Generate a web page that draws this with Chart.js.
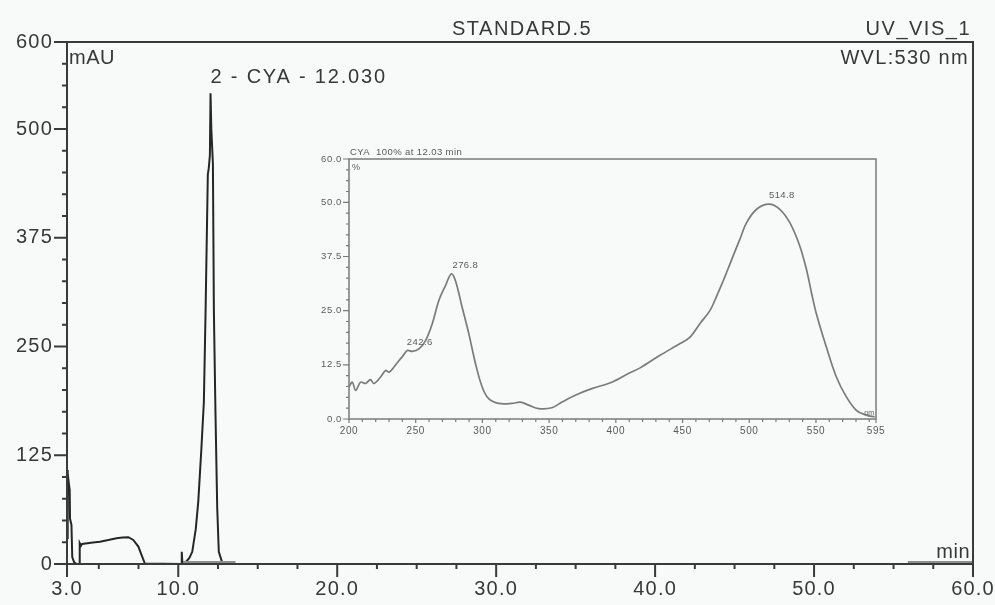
<!DOCTYPE html>
<html>
<head>
<meta charset="utf-8">
<script src="https://cdn.jsdelivr.net/npm/chart.js@4.4.1/dist/chart.umd.min.js"></script>
<style>
  html, body { margin: 0; padding: 0; background: #f8f9f9; }
  #wrap { position: relative; width: 995px; height: 605px; }
  #mainChart { position: absolute; left: 0; top: 0; }
  #specChart { position: absolute; left: 300px; top: 140px; }
</style>
</head>
<body>
<div id="wrap">
  <canvas id="mainChart" width="995" height="605"></canvas>
  <canvas id="specChart" width="600" height="310"></canvas>
</div>
<script>
// chromatogram, UV_VIS_1 at 530 nm (min / mAU)
const mainTime = [3.00, 3.03, 3.06, 3.10, 3.17, 3.19, 3.28, 3.33, 3.45, 3.62, 3.76, 3.80, 3.88, 3.95,
    4.50, 5.07, 5.60, 6.12, 6.50, 6.86, 7.17, 7.49, 7.70, 7.90, 10.20, 10.22, 10.26, 10.46, 10.70,
    10.88, 11.10, 11.26, 11.45, 11.61, 11.72, 11.86, 11.92, 11.99, 12.03, 12.08, 12.18, 12.24, 12.34,
    12.45, 12.55, 12.76, 13.60, 60.00];
const mainSignal = [30, 108, 104, 95, 85, 52, 45, 8, 2, 0, 0, 24, 21, 23,
    24.5, 25.7, 27.5, 29.6, 30.5, 30.8, 27.7, 20, 10, 0.5, 0, 14, 1, 2, 7,
    14, 40, 72, 131, 186, 292, 448, 455, 470, 541, 500, 460, 292, 175,
    65, 14, 2, 0, 0];
// integration baselines (grey bars)
const baseTime = [10.3, 13.6, 13.6, 55.9, 60.0];
const baseSignal = [1.5, 1.5, null, 1.5, 1.5];

const mainXLabels = [3, 10, 20, 30, 40, 50, 60];
const mainYLabels = [0, 125, 250, 375, 500, 600];
const peakTime = [12.03];
const peakSignal = [541];
const peakNames = ['2 - CYA - 12.030'];

// inset UV spectrum of CYA at 12.03 min (nm / %)
const specNm = [200, 202.5, 205, 208.7, 212.5, 216, 218.7, 223.7, 227.5, 230, 233.7, 237.5, 240,
    243.7, 247.4, 252.4, 257.4, 262.4, 267.3, 272.3, 276.8, 279.8, 284.8, 289.8, 294.8, 299.8,
    304.7, 312.2, 322.2, 328.4, 334.6, 342.1, 352.1, 359.6, 369.6, 382, 397, 409.4, 418.2, 433.1,
    448.1, 455.6, 463, 470.5, 475.5, 480.5, 483, 488, 493, 498, 505.5, 514.8, 522.9, 530.4,
    537.8, 542.8, 546.6, 550.3, 557.8, 565.3, 572.8, 580.3, 587.7, 594];
const specPct = [7.4, 8.5, 6.6, 8.5, 8.2, 9.1, 8.2, 9.7, 11.2, 10.8, 12, 13.5, 14.4,
    15.8, 15.6, 16.2, 18.1, 22, 27.3, 30.8, 33.5, 31.9, 25.8, 19.7, 12.8, 7.4,
    4.7, 3.6, 3.6, 3.9, 3.2, 2.4, 2.6, 3.9, 5.5, 7, 8.5, 10.5, 11.8, 14.7,
    17.4, 18.9, 22, 25, 28.3, 31.9, 33.8, 37.7, 41.5, 45.3, 48.4, 49.6, 48.4, 45.3,
    40, 34.6, 29.2, 24.3, 16.6, 9.7, 5.1, 2, 0.9, 0.5];
const specXLabels = [200, 250, 300, 350, 400, 450, 500, 550, 595];
const specYLabels = [0, 12.5, 25, 37.5, 50, 60];
const specPeakNm = [242.6, 276.8, 514.8];
const specPeakPct = [16.0, 33.5, 49.6];

const FONT = "'Liberation Sans', Arial, sans-serif";
Chart.defaults.font.family = FONT;

function withMinors(majors, from, to, step) {
    const vals = majors.slice();
    for (let v = from; v <= to + 1e-9; v += step) {
        const r = Math.round(v * 100) / 100;
        if (!vals.some(m => Math.abs(m - r) < 1e-6)) vals.push(r);
    }
    return vals.sort((a, b) => a - b);
}

function isMajor(list, v) {
    return list.some(m => Math.abs(m - v) < 1e-6);
}

// box + tick marks, drawn through the chart's own scales
const framePlugin = {
    id: 'frame',
    beforeDraw(chart, args, o) {
        chart.ctx.letterSpacing = o.spacing || '0px';
    },
    afterDraw(chart, args, o) {
        const { ctx, chartArea: a, scales } = chart;
        ctx.save();
        ctx.strokeStyle = o.color;
        ctx.lineWidth = o.width;
        ctx.strokeRect(a.left, a.top, a.right - a.left, a.bottom - a.top);
        ctx.lineWidth = o.tickWidth;
        ctx.beginPath();
        scales.x.ticks.forEach(t => {
            const px = scales.x.getPixelForValue(t.value);
            const len = isMajor(o.xMajor, t.value) ? o.xMajorLen : o.xMinorLen;
            ctx.moveTo(px, a.bottom);
            ctx.lineTo(px, a.bottom + len);
        });
        scales.y.ticks.forEach(t => {
            const py = scales.y.getPixelForValue(t.value);
            const len = isMajor(o.yMajor, t.value) ? o.yMajorLen : o.yMinorLen;
            ctx.moveTo(a.left - len, py);
            ctx.lineTo(a.left, py);
        });
        ctx.stroke();
        ctx.restore();
        ctx.letterSpacing = '0px';
    }
};

// free texts: either tied to data values or to the plot box
const textPlugin = {
    id: 'texts',
    afterDraw(chart, args, o) {
        const { ctx, chartArea: a, scales } = chart;
        ctx.save();
        o.items.forEach(it => {
            let x, y;
            if (it.data) {
                x = scales.x.getPixelForValue(it.data[0]) + (it.dx || 0);
                y = scales.y.getPixelForValue(it.data[1]) + (it.dy || 0);
            } else {
                x = (it.fromRight ? a.right : a.left) + it.dx;
                y = (it.fromBottom ? a.bottom : a.top) + it.dy;
            }
            ctx.font = it.font;
            ctx.fillStyle = it.color;
            ctx.letterSpacing = it.spacing || '0px';
            ctx.textAlign = it.align || 'left';
            ctx.textBaseline = 'alphabetic';
            ctx.fillText(it.text, x, y);
        });
        ctx.restore();
    }
};

function toPoints(xs, ys) {
    return xs.map((x, i) => ({ x: x, y: ys[i] }));
}

function noEdgePadding(s) {
    s.paddingLeft = 0;
    s.paddingRight = 0;
}

function initMainChart() {
    const xTicks = withMinors(mainXLabels, 5, 57.5, 2.5);
    const yTicks = withMinors(mainYLabels, 0, 600, 25);
    const txt = '#383838';
    const big = '20px ' + FONT;

    new Chart(document.getElementById('mainChart'), {
        type: 'line',
        data: {
            datasets: [{
                data: toPoints(baseTime, baseSignal),
                borderColor: '#8d8d8d',
                borderWidth: 3.5,
                pointRadius: 0,
                spanGaps: false
            }, {
                data: toPoints(mainTime, mainSignal),
                borderColor: '#262626',
                borderWidth: 2,
                pointRadius: 0,
                tension: 0
            }]
        },
        options: {
            responsive: false,
            animation: false,
            layout: { padding: { top: 42, right: 22, left: 0, bottom: 0 } },
            plugins: {
                legend: { display: false },
                tooltip: { enabled: false },
                frame: {
                    color: '#3a3a3a', width: 2, tickWidth: 2, spacing: '1.2px',
                    xMajor: mainXLabels, yMajor: mainYLabels,
                    xMajorLen: 13, xMinorLen: 5, yMajorLen: 13, yMinorLen: 5
                },
                texts: {
                    items: [
                        { text: 'STANDARD.5', dx: 385, dy: -7, font: big, color: txt, spacing: '1.5px' },
                        { text: 'UV_VIS_1', fromRight: true, dx: -2, dy: -7, align: 'right', font: big, color: txt, spacing: '1.5px' },
                        { text: 'WVL:530 nm', fromRight: true, dx: -4, dy: 22, align: 'right', font: big, color: txt, spacing: '1.3px' },
                        { text: 'mAU', dx: 2, dy: 22, font: big, color: txt, spacing: '0.5px' },
                        { text: 'min', fromRight: true, fromBottom: true, dx: -3, dy: -6, align: 'right', font: big, color: txt, spacing: '0.5px' },
                        { text: peakNames[0], data: [peakTime[0], peakSignal[0]], dx: 0, dy: -10, font: big, color: txt, spacing: '1.8px' }
                    ]
                }
            },
            scales: {
                x: {
                    type: 'linear',
                    min: 3, max: 60,
                    afterBuildTicks: s => { s.ticks = xTicks.map(v => ({ value: v })); },
                    afterFit: s => { s.height = 41; noEdgePadding(s); },
                    grid: { display: false, drawTicks: false },
                    border: { display: false },
                    ticks: {
                        autoSkip: false, maxRotation: 0, padding: 13,
                        color: txt, font: { size: 20 },
                        callback: v => isMajor(mainXLabels, v) ? v.toFixed(1) : ''
                    }
                },
                y: {
                    min: 0, max: 600,
                    afterBuildTicks: s => { s.ticks = yTicks.map(v => ({ value: v })); },
                    afterFit: s => { s.width = 67; },
                    grid: { display: false, drawTicks: false },
                    border: { display: false },
                    ticks: {
                        autoSkip: false, padding: 14,
                        color: txt, font: { size: 20 },
                        callback: v => isMajor(mainYLabels, v) ? String(v) : ''
                    }
                }
            }
        },
        plugins: [framePlugin, textPlugin]
    });
}

function initSpectrumChart() {
    const xTicks = withMinors(specXLabels, 210, 590, 10);
    const yTicks = withMinors(specYLabels, 0, 60, 2.5);
    const txt = '#5a5a5a';
    const small = '9.5px ' + FONT;

    new Chart(document.getElementById('specChart'), {
        type: 'line',
        data: {
            datasets: [{
                data: toPoints(specNm, specPct),
                borderColor: '#7b7b7b',
                borderWidth: 1.7,
                pointRadius: 0,
                tension: 0.35
            }]
        },
        options: {
            responsive: false,
            animation: false,
            layout: { padding: { top: 19, right: 24, left: 0, bottom: 0 } },
            plugins: {
                legend: { display: false },
                tooltip: { enabled: false },
                frame: {
                    color: '#7a7a7a', width: 1.5, tickWidth: 1.2, spacing: '0.6px',
                    xMajor: specXLabels, yMajor: specYLabels,
                    xMajorLen: 4, xMinorLen: 3, yMajorLen: 6, yMinorLen: 3
                },
                texts: {
                    items: [
                        { text: 'CYA  100% at 12.03 min', dx: 1, dy: -4, font: small, color: txt, spacing: '0.4px' },
                        { text: '%', dx: 3, dy: 11, font: '9px ' + FONT, color: txt },
                        { text: 'nm', fromRight: true, fromBottom: true, dx: -2, dy: -4, align: 'right', font: '7px ' + FONT, color: txt },
                        { text: '242.6', data: [specPeakNm[0], specPeakPct[0]], dx: 1, dy: -5, font: small, color: txt, spacing: '0.4px' },
                        { text: '276.8', data: [specPeakNm[1], specPeakPct[1]], dx: 1, dy: -6, font: small, color: txt, spacing: '0.4px' },
                        { text: '514.8', data: [specPeakNm[2], specPeakPct[2]], dx: 0, dy: -6, font: small, color: txt, spacing: '0.4px' }
                    ]
                }
            },
            scales: {
                x: {
                    type: 'linear',
                    min: 200, max: 595,
                    afterBuildTicks: s => { s.ticks = xTicks.map(v => ({ value: v })); },
                    afterFit: s => { s.height = 31; noEdgePadding(s); },
                    grid: { display: false, drawTicks: false },
                    border: { display: false },
                    ticks: {
                        autoSkip: false, maxRotation: 0, padding: 6,
                        color: txt, font: { size: 10 },
                        callback: v => isMajor(specXLabels, v) ? String(v) : ''
                    }
                },
                y: {
                    min: 0, max: 60,
                    afterBuildTicks: s => { s.ticks = yTicks.map(v => ({ value: v })); },
                    afterFit: s => { s.width = 49; },
                    grid: { display: false, drawTicks: false },
                    border: { display: false },
                    ticks: {
                        autoSkip: false, padding: 7,
                        color: txt, font: { size: 9.5 },
                        callback: v => isMajor(specYLabels, v) ? v.toFixed(1) : ''
                    }
                }
            }
        },
        plugins: [framePlugin, textPlugin]
    });
}

document.addEventListener('DOMContentLoaded', function () {
    initMainChart();
    initSpectrumChart();
});
</script>
</body>
</html>
